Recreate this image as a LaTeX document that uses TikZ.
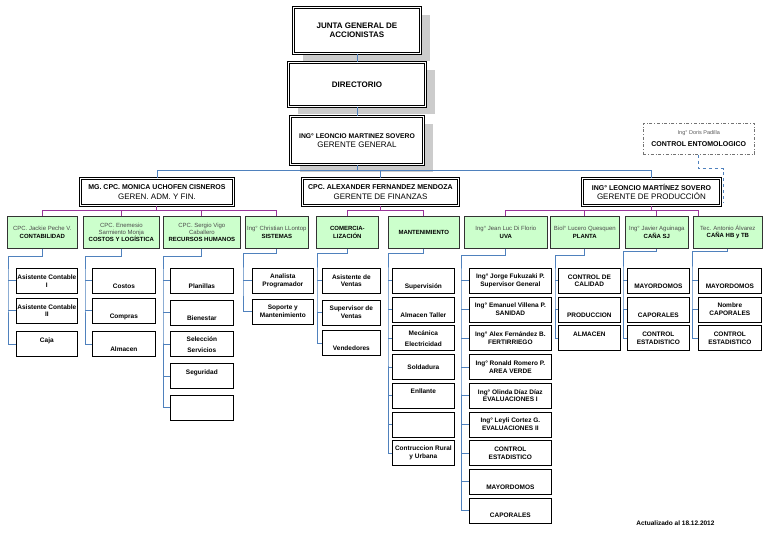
\documentclass[tikz,border=0pt]{standalone}
\usepackage{fontspec}
\setmainfont{Liberation Sans}
\usepackage{tikz}
\usetikzlibrary{positioning,shadows}
\definecolor{lineBlue}{HTML}{4F81BD}
\definecolor{linePurple}{HTML}{993399}
\definecolor{areaGreen}{HTML}{CCFFCC}

\begin{document}
\begin{tikzpicture}[x=1pt,y=-1pt,
    azul/.style={draw=lineBlue,line width=0.8pt},
    morado/.style={draw=linePurple,line width=1pt},
    topbox/.style={draw,line width=0.9pt,double,double distance=1.1pt,fill=white,
      anchor=north west,align=center,inner sep=1pt,font=\bfseries\fontsize{8}{9.5}\selectfont,
      drop shadow={shadow xshift=10pt,shadow yshift=-8pt,fill=black!20,opacity=1}},
    gerbox/.style={draw,line width=0.9pt,double,double distance=0.8pt,fill=white,
      anchor=north west,align=center,inner sep=1pt,minimum height=27pt,minimum width=#1,
      font=\fontsize{8}{9.5}\selectfont},
    areabox/.style={draw=black!80,line width=0.7pt,fill=areaGreen,anchor=north west,
      align=center,inner sep=1pt,minimum height=32pt,minimum width=#1,
      font=\fontsize{6}{7.2}\selectfont},
    cargo/.style={draw,line width=0.7pt,fill=white,align=center,inner sep=1pt,
      minimum height=25pt,minimum width=#1,font=\bfseries\fontsize{6.5}{7.8}\selectfont},
    cargo/.default=62pt,
    bajo/.style={text height=15pt,text depth=0pt},
    bajo2/.style={text height=12pt},
    alto/.style={text height=4.5pt,text depth=8pt}]
  \useasboundingbox (0,0) rectangle (768,543);

  % direccion
  \node[topbox,minimum width=127pt,minimum height=46pt] (junta) at (293,7) {JUNTA GENERAL DE\\ACCIONISTAS};
  \node[topbox,minimum width=137pt,minimum height=44pt] (directorio) at (288,62) {DIRECTORIO};
  \node[topbox,minimum width=133pt,minimum height=48pt,font=\fontsize{8}{9.5}\selectfont] (gerente) at (290,116)
    {{\bfseries\fontsize{6.8}{8.2}\selectfont ING° LEONCIO MARTINEZ SOVERO}\\GERENTE GENERAL};
  \draw[azul] (junta.south) -- (directorio.north);
  \draw[azul] (directorio.south) -- (gerente.north);

  % gerencias
  \node[gerbox=153pt] (gadm) at (80,178)
    {{\bfseries\fontsize{7}{8.2}\selectfont MG. CPC. MONICA UCHOFEN CISNEROS}\\GEREN. ADM. Y FIN.};
  \node[gerbox=156pt] (gfin) at (302,178)
    {{\bfseries\fontsize{7}{8.2}\selectfont CPC. ALEXANDER FERNANDEZ MENDOZA}\\GERENTE DE FINANZAS};
  \node[gerbox=138pt] (gprod) at (582,178)
    {{\bfseries\fontsize{7}{8.2}\selectfont ING° LEONCIO MARTÍNEZ SOVERO}\\GERENTE DE PRODUCCIÓN};
  \node[draw=black!55,dash dot,line width=0.6pt,anchor=north west,minimum width=111pt,minimum height=31pt,
    align=center,inner sep=1pt] (entomo) at (643,123)
    {{\color{black!65}\fontsize{5.5}{7}\selectfont Ing° Doris Padilla}\\{\bfseries\fontsize{7}{8.5}\selectfont CONTROL ENTOMOLOGICO}};

  \coordinate (busMain) at (0,170);
  \draw[azul] (gerente.south) -- (gerente.south |- busMain);
  \draw[azul] (gadm.north) |- (gprod.north |- busMain) -- (gprod.north);
  \draw[azul] (gfin.north) -- (gfin.north |- busMain);
  \coordinate (entEnd) at (723,203);
  \draw[azul,dashed] (entomo.south) -- ++(0,14) -| (entEnd);

  % areas
  \node[areabox=70pt] (contab) at (7,216) {{\color{black!70}CPC. Jackie Peche V.}\\\textbf{CONTABILIDAD}};
  \node[areabox=76pt] (costos) at (83,216) {{\color{black!70}CPC. Enemesio}\\{\color{black!70}Sarmiento Monja}\\\textbf{COSTOS Y LOGÍSTICA}};
  \node[areabox=77pt] (rrhh) at (163,216) {{\color{black!70}CPC. Sergio Vigo}\\{\color{black!70}Caballero}\\\textbf{RECURSOS HUMANOS}};
  \node[areabox=63pt] (sist) at (245,216) {{\color{black!70}Ing° Christian LLontop}\\\textbf{SISTEMAS}};
  \node[areabox=62pt] (comer) at (316,216) {\textbf{COMERCIA-}\\\textbf{LIZACIÓN}};
  \node[areabox=71pt] (mant) at (388,216) {\textbf{MANTENIMIENTO}};
  \node[areabox=83pt] (uva) at (464,216) {{\color{black!70}Ing° Jean Luc Di Florio}\\\textbf{UVA}};
  \node[areabox=69pt] (planta) at (550,216) {{\color{black!70}Biol° Lucero Quesquen}\\\textbf{PLANTA}};
  \node[areabox=63pt] (canasj) at (625,216) {{\color{black!70}Ing° Javier Aguinaga}\\\textbf{CAÑA SJ}};
  \node[areabox=69pt] (canahb) at (693,216) {{\color{black!70}Tec. Antonio Álvarez}\\\textbf{CAÑA HB y TB}};

  \coordinate (busArea) at (0,210);
  \draw[morado] (gadm.south) -- (gadm.south |- busArea);
  \draw[morado] (contab.north) -- (contab.north |- busArea) -- (sist.north |- busArea) -- (sist.north);
  \foreach \n in {costos,rrhh} \draw[morado] (\n.north) -- (\n.north |- busArea);
  \draw[morado] (gfin.south) -- (gfin.south |- busArea);
  \draw[morado] (comer.north) -- (comer.north |- busArea) -- (mant.north |- busArea) -- (mant.north);
  \draw[morado] (gprod.south) -- (gprod.south |- busArea);
  \coordinate (hbTop) at ([xshift=5pt]canahb.north west);
  \draw[morado] (uva.north) -- (uva.north |- busArea) -- (hbTop |- busArea) -- (hbTop);
  \foreach \n in {planta,canasj} \draw[morado] (\n.north) -- (\n.north |- busArea);

  % contabilidad
  \node[cargo=61pt,anchor=north west] (contab1) at (16,268) {Asistente Contable\\I};
  \node[cargo=61pt,below=4pt of contab1] (contab2) {Asistente Contable\\II};
  \node[cargo=61pt,alto,below=8pt of contab2] (contab3) {Caja};
  \draw[azul] (contab.south) -- ++(0,8) -| ([xshift=-8pt]contab1.west) |- (contab3.west);
  \foreach \i in {1,2} \draw[azul] ([xshift=-8pt]contab\i.west) -- (contab\i.west);

  % costos y logistica
  \node[cargo=63pt,bajo,anchor=north west] (costos1) at (92,268) {Costos};
  \node[cargo=63pt,bajo,below=4pt of costos1] (costos2) {Compras};
  \node[cargo=63pt,bajo,below=8pt of costos2] (costos3) {Almacen};
  \draw[azul] (costos.south) -- ++(0,8) -| ([xshift=-7pt]costos1.west) |- (costos3.west);
  \foreach \i in {1,2} \draw[azul] ([xshift=-7pt]costos\i.west) -- (costos\i.west);

  % recursos humanos
  \node[cargo=63pt,bajo,anchor=north west] (rrhh1) at (170,268) {Planillas};
  \node[cargo=63pt,bajo,below=6pt of rrhh1] (rrhh2) {Bienestar};
  \node[cargo=63pt,below=6pt of rrhh2] (rrhh3) {Selección\\[3pt]Servicios};
  \node[cargo=63pt,alto,below=6pt of rrhh3] (rrhh4) {Seguridad};
  \node[cargo=63pt,below=6pt of rrhh4] (rrhh5) {};
  \draw[azul] (rrhh.south) -- ++(0,8) -| ([xshift=-7pt]rrhh1.west) |- (rrhh5.west);
  \foreach \i in {1,...,4} \draw[azul] ([xshift=-7pt]rrhh\i.west) -- (rrhh\i.west);

  % sistemas
  \node[cargo=61pt,bajo2,anchor=north west] (sist1) at (252,268) {Analista\\Programador};
  \node[cargo=61pt,bajo2,below=5pt of sist1] (sist2) {Soporte y\\Mantenimiento};
  \draw[azul] (sist.south) -- ++(0,5) -| ([xshift=-9pt]sist1.west) |- (sist2.west);
  \draw[azul] ([xshift=-9pt]sist1.west) -- (sist1.west);

  % comercializacion
  \node[cargo=58pt,bajo2,anchor=north west] (comer1) at (322,268) {Asistente de\\Ventas};
  \node[cargo=58pt,bajo2,below=6pt of comer1] (comer2) {Supervisor de\\Ventas};
  \node[cargo=58pt,bajo,below=5pt of comer2] (comer3) {Vendedores};
  \draw[azul] (comer.south) -- ++(0,5) -| ([xshift=-5pt]comer1.west) |- (comer3.west);
  \foreach \i in {1,2} \draw[azul] ([xshift=-5pt]comer\i.west) -- (comer\i.west);

  % mantenimiento
  \node[cargo,bajo,anchor=north west] (mant1) at (392,268) {Supervisión};
  \node[cargo,bajo,below=3pt of mant1] (mant2) {Almacen Taller};
  \node[cargo,below=3pt of mant2] (mant3) {Mecánica\\[3pt]Electricidad};
  \node[cargo,below=3pt of mant3] (mant4) {Soldadura};
  \node[cargo,alto,below=3pt of mant4] (mant5) {Enllante};
  \node[cargo,below=3pt of mant5] (mant6) {};
  \node[cargo,bajo2,below=3pt of mant6] (mant7) {Contruccion Rural\\y Urbana};
  \draw[azul] (mant.south) -- ++(0,5) -| ([xshift=-4pt]mant1.west) |- (mant7.west);
  \foreach \i in {1,...,6} \draw[azul] ([xshift=-4pt]mant\i.west) -- (mant\i.west);

  % uva
  \node[cargo=82pt,anchor=north west] (uva1) at (469,268) {Ing° Jorge Fukuzaki P.\\Supervisor General};
  \node[cargo=82pt,below=3pt of uva1] (uva2) {Ing° Emanuel Villena P.\\SANIDAD};
  \node[cargo=82pt,below=3pt of uva2] (uva3) {Ing° Alex Fernández B.\\FERTIRRIEGO};
  \node[cargo=82pt,below=3pt of uva3] (uva4) {Ing° Ronald Romero P.\\AREA VERDE};
  \node[cargo=82pt,below=3pt of uva4] (uva5) {Ing° Olinda Díaz Díaz\\EVALUACIONES I};
  \node[cargo=82pt,below=3pt of uva5] (uva6) {Ing° Leyli Cortez G.\\EVALUACIONES II};
  \node[cargo=82pt,bajo2,below=3pt of uva6] (uva7) {CONTROL\\ESTADISTICO};
  \node[cargo=82pt,bajo,below=3pt of uva7] (uva8) {MAYORDOMOS};
  \node[cargo=82pt,bajo,below=3pt of uva8] (uva9) {CAPORALES};
  \draw[azul] (uva.south) -- ++(0,7) -| ([xshift=-8pt]uva1.west) |- (uva9.west);
  \foreach \i in {1,...,8} \draw[azul] ([xshift=-8pt]uva\i.west) -- (uva\i.west);

  % planta
  \node[cargo,bajo2,anchor=north west] (planta1) at (558,268) {CONTROL DE\\CALIDAD};
  \node[cargo,bajo,below=3pt of planta1] (planta2) {PRODUCCION};
  \node[cargo,alto,below=3pt of planta2] (planta3) {ALMACEN};
  \draw[azul] (planta.south) -- ++(0,7) -| ([xshift=-3pt]planta1.west) |- (planta3.west);
  \foreach \i in {1,2} \draw[azul] ([xshift=-3pt]planta\i.west) -- (planta\i.west);

  % cana sj
  \node[cargo,bajo,anchor=north west] (canasj1) at (627,268) {MAYORDOMOS};
  \node[cargo,bajo,below=3pt of canasj1] (canasj2) {CAPORALES};
  \node[cargo,bajo2,below=3pt of canasj2] (canasj3) {CONTROL\\ESTADISTICO};
  \draw[azul] (canasj.south) -- ++(0,2.5) -| ([xshift=-4pt]canasj1.west) |- (canasj3.west);
  \foreach \i in {1,2} \draw[azul] ([xshift=-4pt]canasj\i.west) -- (canasj\i.west);

  % cana hb y tb
  \node[cargo=63pt,bajo,anchor=north west] (canahb1) at (698,268) {MAYORDOMOS};
  \node[cargo=63pt,below=3pt of canahb1] (canahb2) {Nombre\\CAPORALES};
  \node[cargo=63pt,bajo2,below=3pt of canahb2] (canahb3) {CONTROL\\ESTADISTICO};
  \draw[azul] (canahb.south) -- ++(0,2.5) -| ([xshift=-6pt]canahb1.west) |- (canahb3.west);
  \foreach \i in {1,2} \draw[azul] ([xshift=-6pt]canahb\i.west) -- (canahb\i.west);

  \node[anchor=east,font=\bfseries\fontsize{6.5}{8}\selectfont] (fecha) at (718,523) {Actualizado al 18.12.2012};
\end{tikzpicture}
\end{document}
